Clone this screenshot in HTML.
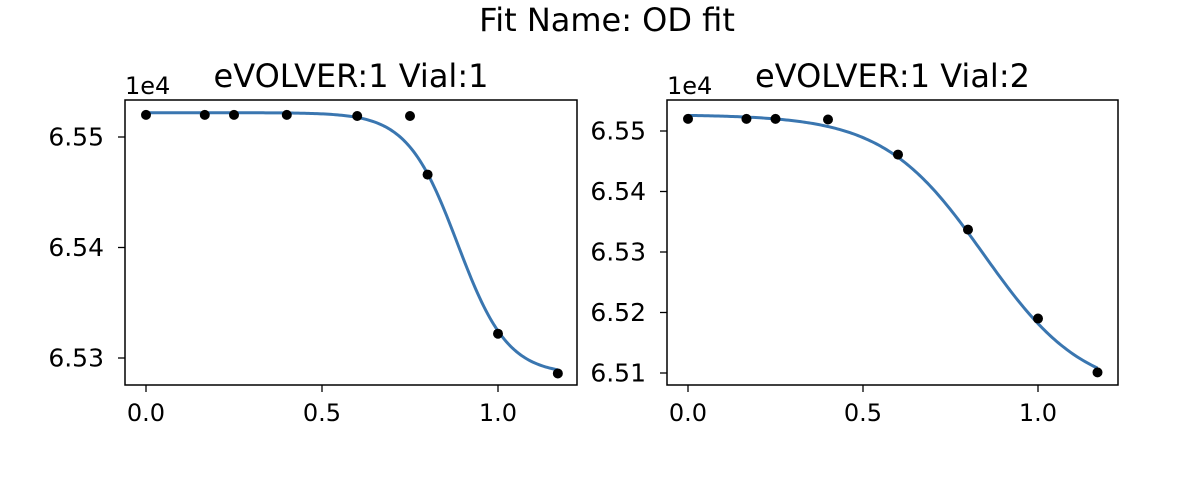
<!DOCTYPE html>
<html><head><meta charset="utf-8"><style>
body{margin:0;background:#fff;font-family:"Liberation Sans","DejaVu Sans",sans-serif}
svg text{font-family:"DejaVu Sans","Liberation Sans",sans-serif;fill:#000}
</style></head><body>
<svg id="c" width="1194" height="476" xmlns="http://www.w3.org/2000/svg">
<text x="607" y="31" font-size="32" text-anchor="middle">Fit Name: OD fit</text>
</svg>
<script>
const xTicks=[0.0,0.5,1.0];
const xTickLabels=["0.0","0.5","1.0"];
const vial1X=[0,0.167,0.25,0.4,0.6,0.75,0.8,1.0,1.17];
const vial1Y=[6.5520,6.5520,6.5520,6.5520,6.5519,6.5519,6.5466,6.5322,6.5286];
const vial1Fit=[6.5522,6.5285,0.885,14]; // upper, lower, midpoint, slope
const vial1YTicks=[6.55,6.54,6.53];
const vial2X=[0,0.167,0.25,0.4,0.6,0.8,1.0,1.17];
const vial2Y=[6.5520,6.5520,6.5520,6.5519,6.5461,6.5337,6.5190,6.5101];
const vial2Fit=[6.5527,6.5065,0.845,7.0];
const vial2YTicks=[6.55,6.54,6.53,6.52,6.51];
const panelTitles=["eVOLVER:1 Vial:1","eVOLVER:1 Vial:2"];
const NS="http://www.w3.org/2000/svg";
const svg=document.getElementById('c');
function mk(t,a,p){const e=document.createElementNS(NS,t);for(const k in a)e.setAttribute(k,a[k]);(p||svg).appendChild(e);return e;}
function panel(i,box,xd,yd,X,Y,fit,yt){
  const g=mk('g',{});
  
  
  const sx=v=>box.l+(v-xd[0])/(xd[1]-xd[0])*(box.r-box.l);
  const sy=v=>box.b-(v-yd[0])/(yd[1]-yd[0])*(box.b-box.t);
  const f=x=>fit[1]+(fit[0]-fit[1])/(1+Math.exp(fit[3]*(x-fit[2])));
  let d='';for(let k=0;k<=200;k++){const x=X[0]+(X[X.length-1]-X[0])*k/200;d+=(k?'L':'M')+sx(x).toFixed(2)+','+sy(f(x)).toFixed(2);}
  const p=mk('path',{d:d,fill:'none',stroke:'#3a76b0','stroke-width':3},g);
  
  
  X.forEach((x,j)=>{const c=mk('circle',{cx:sx(x),cy:sy(Y[j]),r:5,fill:'#000'},g);
    
    });
  const r=mk('rect',{x:box.l,y:box.t,width:box.r-box.l,height:box.b-box.t,fill:'none',stroke:'#000','stroke-width':1.5},g);
  
  
  xTicks.forEach((v,j)=>{const x=sx(v);mk('line',{x1:x,x2:x,y1:box.b,y2:box.b+7,stroke:'#000','stroke-width':1.3},g);
    const t=mk('text',{x:x,y:box.b+36,'font-size':24,'text-anchor':'middle'},g);t.textContent=xTickLabels[j];
    
    });
  yt.forEach(v=>{const y=sy(v);mk('line',{x1:box.l-7,x2:box.l,y1:y,y2:y,stroke:'#000','stroke-width':1.3},g);
    const t=mk('text',{x:box.l-21,y:y+8.5,'font-size':25,'text-anchor':'end'},g);t.textContent=v.toFixed(2);
    
    });
  const o=mk('text',{x:box.l,y:box.t-6,'font-size':24},g);o.textContent='1e4';
  
  
  const tt=mk('text',{x:(box.l+box.r)/2,y:box.t-13,'font-size':32,'text-anchor':'middle'},g);tt.textContent=panelTitles[i];
  
  
}
panel(0,{l:125,r:577,t:100,b:385},[(125-146)/352,(577-146)/352],[6.55-(385-137)/11050,6.55+(137-100)/11050],vial1X,vial1Y,vial1Fit,vial1YTicks);
panel(1,{l:667,r:1118,t:100,b:385},[(667-688)/350,(1118-688)/350],[6.55-(385-131)/6050,6.55+(131-100)/6050],vial2X,vial2Y,vial2Fit,vial2YTicks);
</script>
</body></html>
